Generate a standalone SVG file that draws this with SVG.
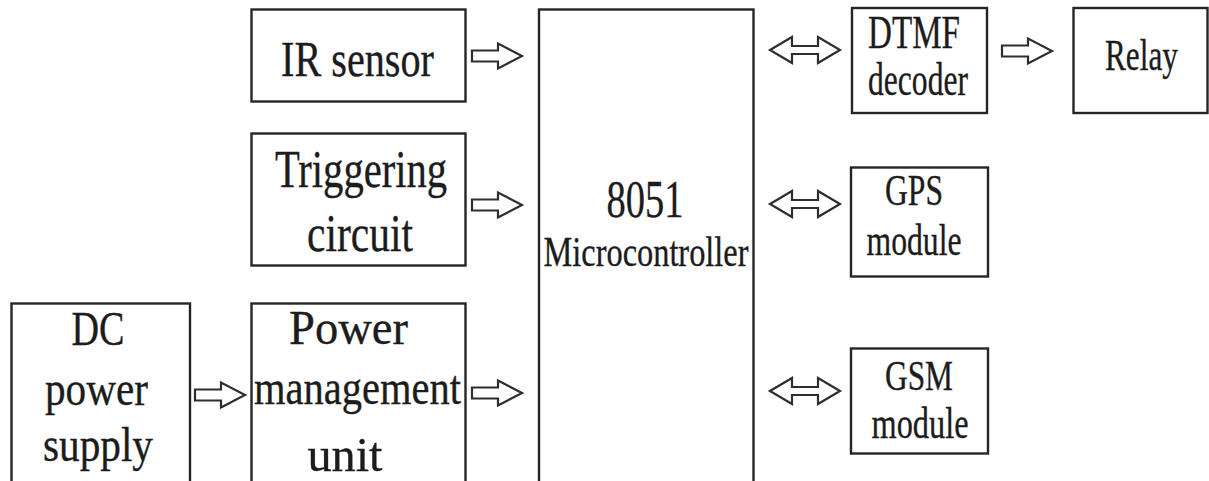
<svg xmlns="http://www.w3.org/2000/svg" width="1209" height="481" viewBox="0 0 1209 481">
<style>
.box{fill:#fff;stroke:#252525;stroke-width:2.4}
.t{font-family:"Liberation Serif","Times New Roman",serif;fill:#1c1c1c;stroke:#1c1c1c;stroke-width:0.35;text-anchor:middle}
.arr{fill:#fff;stroke:#2e2e2e;stroke-width:2.2}
</style>
<defs>
<path id="sa" d="M0,-5.5 H26 V-12.5 L50,0 L26,12.5 V5.5 H0 Z"/>
<path id="da" d="M0,0 L22,-13 V-4 H48 V-13 L70,0 L48,13 V4 H22 V13 Z"/>
</defs>
<rect width="1209" height="481" fill="#fff"/>
<g id="ir">
<rect class="box" x="251.5" y="9.5" width="214" height="92"/>
<text class="t" x="357.5" y="76" font-size="50" textLength="153" lengthAdjust="spacingAndGlyphs">IR sensor</text>
</g>
<g id="trig">
<rect class="box" x="251.5" y="133.5" width="214" height="132"/>
<text class="t" x="361" y="187" font-size="52" textLength="172" lengthAdjust="spacingAndGlyphs">Triggering</text>
<text class="t" x="360" y="251" font-size="52" textLength="106" lengthAdjust="spacingAndGlyphs">circuit</text>
</g>
<g id="dc">
<rect class="box" x="11.5" y="303.5" width="178.5" height="190"/>
<text class="t" x="98" y="345" font-size="49" textLength="53" lengthAdjust="spacingAndGlyphs">DC</text>
<text class="t" x="96.5" y="405" font-size="49" textLength="103" lengthAdjust="spacingAndGlyphs">power</text>
<text class="t" x="98" y="461" font-size="49" textLength="110" lengthAdjust="spacingAndGlyphs">supply</text>
</g>
<g id="pmu">
<rect class="box" x="251.5" y="303.5" width="214" height="190"/>
<text class="t" x="348.5" y="344" font-size="49" textLength="119" lengthAdjust="spacingAndGlyphs">Power</text>
<text class="t" x="357.5" y="404" font-size="49" textLength="207" lengthAdjust="spacingAndGlyphs">management</text>
<text class="t" x="345" y="471" font-size="49" textLength="75" lengthAdjust="spacingAndGlyphs">unit</text>
</g>
<g id="mcu">
<rect class="box" x="539" y="9.5" width="214.5" height="490" stroke="#4a4a4a" stroke-width="2.6"/>
<text class="t" x="645" y="217" font-size="53" textLength="77" lengthAdjust="spacingAndGlyphs">8051</text>
<text class="t" x="646" y="266" font-size="43" textLength="205" lengthAdjust="spacingAndGlyphs">Microcontroller</text>
</g>
<g id="dtmf">
<rect class="box" x="852" y="8" width="135" height="105"/>
<text class="t" x="914" y="48" font-size="47" textLength="92" lengthAdjust="spacingAndGlyphs">DTMF</text>
<text class="t" x="918" y="95" font-size="47" textLength="100" lengthAdjust="spacingAndGlyphs">decoder</text>
</g>
<g id="relay">
<rect class="box" x="1073.5" y="8" width="134" height="105"/>
<text class="t" x="1141.5" y="70" font-size="45" textLength="73" lengthAdjust="spacingAndGlyphs">Relay</text>
</g>
<g id="gps">
<rect class="box" x="851" y="167.5" width="137" height="109"/>
<text class="t" x="914" y="205" font-size="45" textLength="58" lengthAdjust="spacingAndGlyphs">GPS</text>
<text class="t" x="914" y="255" font-size="45" textLength="95" lengthAdjust="spacingAndGlyphs">module</text>
</g>
<g id="gsm">
<rect class="box" x="851" y="348.5" width="137" height="105"/>
<text class="t" x="919" y="390" font-size="43" textLength="68" lengthAdjust="spacingAndGlyphs">GSM</text>
<text class="t" x="920" y="438" font-size="45" textLength="97" lengthAdjust="spacingAndGlyphs">module</text>
</g>
<g id="connectors">
<use href="#sa" class="arr" transform="translate(472,56)"/>
<use href="#sa" class="arr" transform="translate(472,205)"/>
<use href="#sa" class="arr" transform="translate(472,393)"/>
<use href="#sa" class="arr" transform="translate(195,395)"/>
<use href="#sa" class="arr" transform="translate(1002,51)"/>
<use href="#da" class="arr" transform="translate(770,50)"/>
<use href="#da" class="arr" transform="translate(770,204)"/>
<use href="#da" class="arr" transform="translate(770,391)"/>
</g>
</svg>
